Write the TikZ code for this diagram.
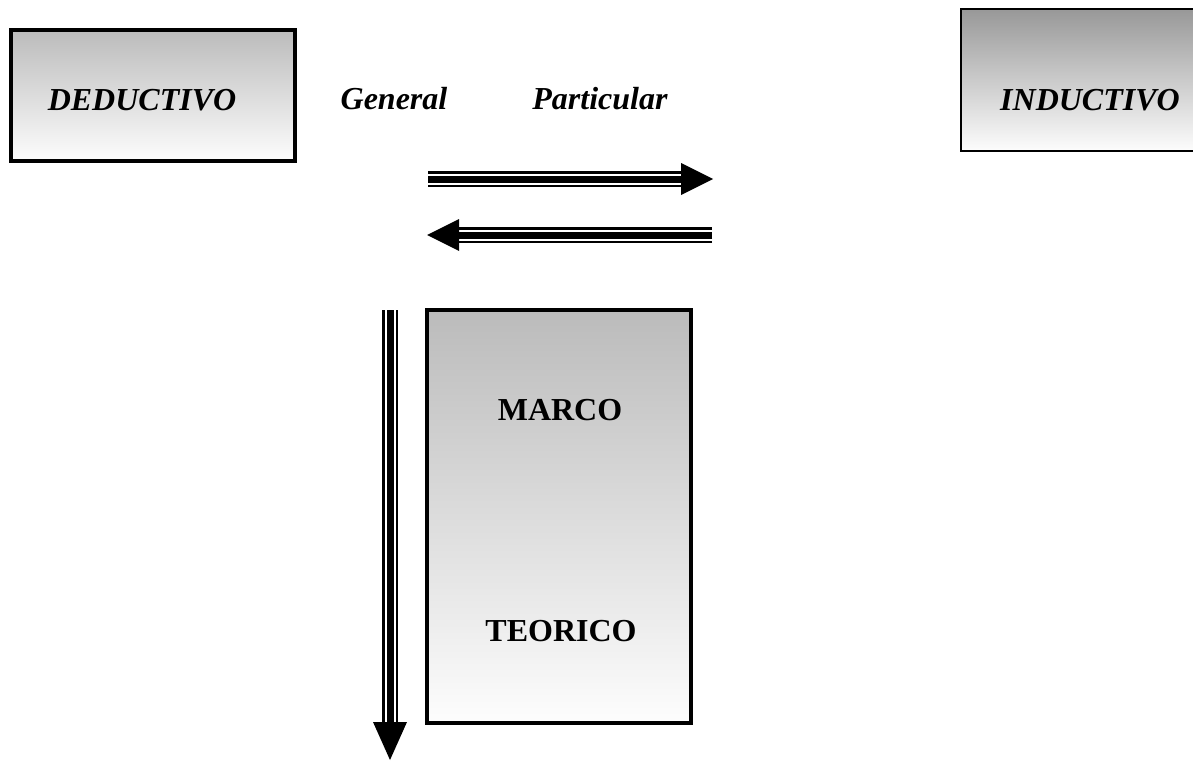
\documentclass[tikz,border=0pt]{standalone}
\usepackage{fontspec}
\setmainfont{Liberation Serif}
\definecolor{gtop}{HTML}{BBBBBB}
\definecolor{gtopdark}{HTML}{989898}
\definecolor{gbot}{HTML}{FDFDFD}
\begin{document}
\begin{tikzpicture}[x=1pt,y=-1pt,
  box/.style={draw=black, shade, top color=gtop, bottom color=gbot, inner sep=0pt},
  lbl/.style={anchor=base, inner sep=0pt, font=\fontsize{32}{32}\selectfont\bfseries\itshape},
  lblup/.style={anchor=base, inner sep=0pt, font=\fontsize{32}{32}\selectfont\bfseries},
  outerline/.style={line width=16pt, black},
  gapline/.style={line width=11pt, white},
  coreline/.style={line width=7pt, black},
  head/.style={fill=black, draw=none}
]
\useasboundingbox (0,0) rectangle (1193,760);
\fill[white] (0,0) rectangle (1193,760);

% boxes
\node (ded) [box, line width=4.5pt, minimum width=284pt, minimum height=131pt] at (153,95.5) {};
\node (ind) [box, top color=gtopdark, line width=1.8pt, minimum width=240pt, minimum height=142pt] at (1081,80) {};
\node (marco) [box, line width=4.5pt, minimum width=264pt, minimum height=413pt] at (559,516.5) {};

% labels
\node (dedt) [lbl] at (142,110) {DEDUCTIVO};
\node (gen) [lbl] at (394,109) {General};
\node (par) [lbl] at (600,109) {Particular};
\node (indt) [lbl] at (1090,110) {INDUCTIVO};
\node (mt) [lblup] at (560,420) {MARCO};
\node (tt) [lblup] at (561,641) {TEORICO};

% right arrow
\coordinate (r1) at (428,179);
\coordinate (r2) at (681,179);
\coordinate (r3) at (713,179);
\draw[outerline] (r1) -- (r2);
\draw[gapline] (r1) -- (r2);
\draw[coreline] (r1) -- (r2);
\fill[head] (r3) -- ([yshift=-16pt]r2) -- ([yshift=16pt]r2) -- cycle;

% left arrow
\coordinate (l1) at (712,235);
\coordinate (l2) at (459,235);
\coordinate (l3) at (427,235);
\draw[outerline] (l1) -- (l2);
\draw[gapline] (l1) -- (l2);
\draw[coreline] (l1) -- (l2);
\fill[head] (l3) -- ([yshift=-16pt]l2) -- ([yshift=16pt]l2) -- cycle;

% vertical arrow
\coordinate (v1) at (390,310);
\coordinate (v2) at (390,722);
\coordinate (v3) at (390,760);
\draw[outerline] (v1) -- (v2);
\draw[gapline] (v1) -- (v2);
\draw[coreline] (v1) -- (v2);
\fill[head] (v3) -- ([xshift=-17pt]v2) -- ([xshift=17pt]v2) -- cycle;
\end{tikzpicture}
\end{document}
